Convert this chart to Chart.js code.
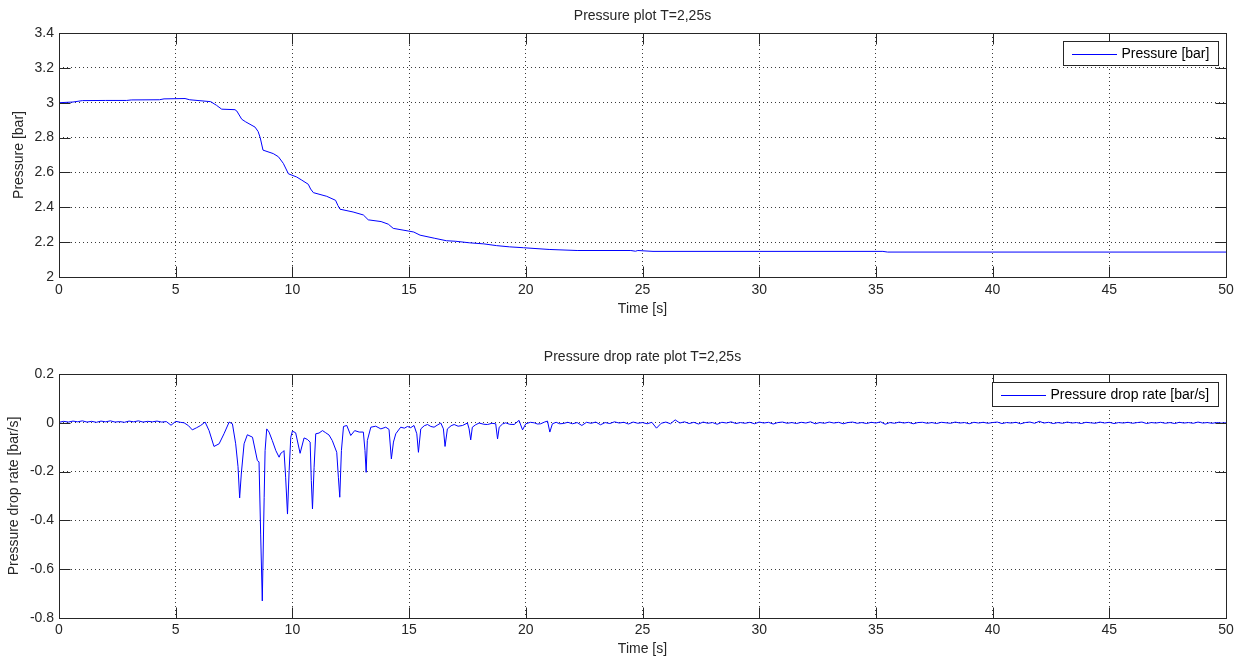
<!DOCTYPE html>
<html>
<head>
<meta charset="utf-8">
<title>Pressure plot</title>
<script src="https://cdn.jsdelivr.net/npm/chart.js@4.4.0/dist/chart.umd.min.js"></script>
<style>
  body { margin: 0; background: #fff; }
  .wrap { position: relative; width: 1241px; height: 660px; }
  canvas { position: absolute; left: 0; }
</style>
</head>
<body>
<div class="wrap">
  <canvas id="press-chart" width="1241" height="330" style="top:0"></canvas>
  <canvas id="rate-chart" width="1241" height="330" style="top:330px"></canvas>
</div>
<script>
// axis ticks
const timeTicks = [0, 5, 10, 15, 20, 25, 30, 35, 40, 45, 50];
const timeLabels = ["0", "5", "10", "15", "20", "25", "30", "35", "40", "45", "50"];
const pressTicks = [2, 2.2, 2.4, 2.6, 2.8, 3, 3.2, 3.4];
const pressLabels = ["2", "2.2", "2.4", "2.6", "2.8", "3", "3.2", "3.4"];
const rateTicks = [-0.8, -0.6, -0.4, -0.2, 0, 0.2];
const rateLabels = ["-0.8", "-0.6", "-0.4", "-0.2", "0", "0.2"];

// pressure [bar]
const pressTime = [0, 0.6, 1.0, 2.0, 2.9, 3.1, 4.3, 4.5, 5.4, 5.6,
  6.0, 6.5, 6.75, 6.97, 7.54, 7.62, 7.83, 8.0, 8.4, 8.53,
  8.62, 8.74, 9.18, 9.4, 9.61, 9.83, 10.18, 10.4, 10.68, 10.78,
  10.9, 11.47, 11.85, 11.95, 12.04, 12.6, 13.04, 13.25, 13.8, 14.11,
  14.32, 14.96, 15.2, 15.47, 16.1, 16.6, 17.0, 17.6, 18.2, 18.75,
  19.3, 19.9, 21.0, 22.2, 24.5, 24.7, 24.8, 25.45, 30, 35.3,
  35.5, 40, 45, 50];
const pressure = [3.0, 3.004, 3.012, 3.013, 3.013, 3.016, 3.017, 3.022, 3.024, 3.017,
  3.012, 3.006, 2.985, 2.963, 2.96, 2.952, 2.905, 2.89, 2.86, 2.835,
  2.80, 2.728, 2.708, 2.69, 2.652, 2.592, 2.574, 2.556, 2.532, 2.505,
  2.484, 2.463, 2.44, 2.41, 2.389, 2.373, 2.356, 2.328, 2.318, 2.303,
  2.279, 2.264, 2.258, 2.24, 2.222, 2.208, 2.205, 2.196, 2.19, 2.18,
  2.173, 2.168, 2.158, 2.152, 2.152, 2.148, 2.152, 2.147, 2.147, 2.147,
  2.143, 2.143, 2.143, 2.143];

// pressure drop rate [bar/s]: quiet start, sampled every 0.2 s from 0
const rateHeadStep = 0.2;
const rateHead = [0.002, 0.006, 0.003, 0.007, 0.004, 0.008, 0.003, 0.006, 0.002, 0.007,
  0.004, 0.008, 0.003, 0.005, 0.002, 0.007, 0.004, 0.008, 0.003, 0.006,
  0.004, 0.007, 0.003, 0.005, -0.01, 0.006, 0.002];

// the active part, read point by point
const rateMidTime = [5.36, 5.55, 5.71, 5.9, 6.07, 6.26, 6.43, 6.64, 6.86, 7.07,
  7.29, 7.43, 7.57, 7.67, 7.74, 7.81, 7.93, 8.07, 8.29, 8.5,
  8.57, 8.64, 8.71, 8.79, 8.83, 8.9, 9.0, 9.14, 9.29, 9.43,
  9.5, 9.57, 9.64, 9.71, 9.79, 9.86, 9.93, 10.0, 10.14, 10.33,
  10.5, 10.64, 10.76, 10.81, 10.86, 10.93, 11.0, 11.14, 11.29, 11.43,
  11.57, 11.71, 11.9, 11.97, 12.03, 12.1, 12.19, 12.33, 12.5, 12.67,
  12.86, 13.04, 13.11, 13.16, 13.21, 13.36, 13.57, 13.79, 14.0, 14.14,
  14.24, 14.33, 14.43, 14.64, 14.8, 14.93, 15.07, 15.21, 15.33, 15.4,
  15.5, 15.65, 15.79, 15.93, 16.07, 16.2, 16.36, 16.47, 16.54, 16.64,
  16.8, 16.93, 17.1, 17.29, 17.5, 17.57, 17.64, 17.71, 17.85, 18.0,
  18.2, 18.36, 18.55, 18.71, 18.79, 18.86, 19.0, 19.14, 19.3, 19.5,
  19.71, 19.86, 20.0, 20.2, 20.36, 20.5, 20.64, 20.8, 20.93, 21.03,
  21.14, 21.3, 21.45];
const rateMid = [0.0, -0.012, -0.029, -0.02, -0.011, 0.003, -0.032, -0.097, -0.086, -0.045,
  0.003, -0.004, -0.086, -0.18, -0.308, -0.21, -0.086, -0.049, -0.059, -0.155,
  -0.16, -0.456, -0.73, -0.305, -0.114, -0.025, -0.038, -0.073, -0.114, -0.141,
  -0.125, -0.121, -0.114, -0.223, -0.374, -0.196, -0.059, -0.034, -0.041, -0.125,
  -0.062, -0.068, -0.079, -0.237, -0.353, -0.182, -0.045, -0.042, -0.032, -0.041,
  -0.05, -0.073, -0.121, -0.223, -0.305, -0.114, -0.015, -0.011, -0.052, -0.032,
  -0.038, -0.038, -0.114, -0.203, -0.073, -0.018, -0.014, -0.025, -0.018, -0.027,
  -0.148, -0.079, -0.045, -0.018, -0.022, -0.015, -0.02, -0.011, -0.045, -0.121,
  -0.025, -0.012, -0.007, -0.015, -0.018, -0.01, -0.001, -0.025, -0.097, -0.025,
  -0.012, -0.007, -0.014, -0.011, -0.001, -0.025, -0.07, -0.018, -0.008, -0.001,
  -0.006, -0.007, -0.002, -0.004, -0.066, -0.018, -0.005, 0.0, -0.006, -0.007,
  0.01, -0.029, -0.004, 0.002, 0.0, -0.005, -0.004, 0.003, 0.007, -0.038,
  -0.004, 0.002, -0.004];

// settled tail, sampled every 0.2 s from 21.6 s
const rateTailStart = 21.6;
const rateTailStep = 0.2;
const rateTail = [-0.003, 0.002, -0.004, 0.001, -0.011, 0.002, -0.002, 0.003, -0.008, 0.001,
  -0.003, 0.004, -0.001, 0.002, -0.005, 0.003, -0.002, 0.001, -0.004, 0.002,
  -0.022, -0.002, 0.003, -0.004, 0.012, -0.001, 0.004, -0.003, 0.002, -0.005,
  0.003, -0.002, 0.001, -0.006, 0.002, -0.001, 0.004, -0.003, 0.001, -0.002,
  0.002, -0.004, 0.003, -0.001, 0.002, -0.005, 0.001, 0.003, -0.002, 0.001,
  -0.003, 0.002, -0.001, 0.004, -0.004, 0.001, -0.002, 0.003, -0.001, 0.002,
  -0.004, 0.001, 0.003, -0.002, 0.001, -0.003, 0.002, -0.001, 0.004, -0.006,
  0.001, -0.002, 0.003, -0.001, 0.002, -0.004, 0.001, 0.002, -0.002, 0.001,
  -0.003, 0.002, 0.0, -0.002, 0.003, -0.001, 0.001, -0.004, 0.002, -0.001,
  0.002, -0.002, 0.001, 0.003, -0.003, 0.001, -0.001, 0.002, -0.004, 0.001,
  0.003, -0.002, 0.006, -0.001, 0.002, -0.003, 0.001, -0.002, 0.003, -0.001,
  0.001, -0.003, 0.002, 0.0, -0.002, 0.003, -0.001, 0.002, -0.003, 0.001,
  -0.001, 0.002, -0.002, 0.001, 0.003, -0.003, 0.001, -0.001, 0.002, -0.002,
  0.001, -0.003, 0.002, -0.001, 0.001, -0.002, 0.003, -0.001, 0.001, -0.002,
  0.001, -0.001, 0.0];

const FONT = "'Liberation Sans', Arial, Helvetica, sans-serif";
const TEXT = "#262626";
const LINE = "#0000ff";

Chart.defaults.font.family = FONT;
Chart.defaults.font.size = 14;
Chart.defaults.color = TEXT;

// MATLAB style box, inward tick marks and boxed legend
const matlabAxes = {
  id: "matlabAxes",
  afterDatasetsDraw(chart) {
    const { ctx, chartArea: a, scales } = chart;
    const L = Math.round(a.left) + 0.5, R = Math.round(a.right) + 0.5;
    const T = Math.round(a.top) + 0.5, B = Math.round(a.bottom) + 0.5;
    ctx.save();
    ctx.setLineDash([]);
    ctx.strokeStyle = TEXT;
    ctx.lineWidth = 1;
    ctx.beginPath();
    scales.x.ticks.forEach((t) => {
      const px = Math.round(scales.x.getPixelForValue(t.value)) + 0.5;
      ctx.moveTo(px, B); ctx.lineTo(px, B - 11);
      ctx.moveTo(px, T); ctx.lineTo(px, T + 11);
    });
    scales.y.ticks.forEach((t) => {
      const py = Math.round(scales.y.getPixelForValue(t.value)) + 0.5;
      ctx.moveTo(L, py); ctx.lineTo(L + 11, py);
      ctx.moveTo(R, py); ctx.lineTo(R - 11, py);
    });
    ctx.stroke();
    ctx.strokeRect(L, T, R - L, B - T);

    // legend box
    const label = chart.data.datasets[0].label;
    ctx.font = "14px " + FONT;
    const tw = ctx.measureText(label).width;
    const w = Math.round(tw + 67), h = 24;
    const x = R - 8 - w, y = T + 8;
    ctx.fillStyle = "#fff";
    ctx.fillRect(x, y, w, h);
    ctx.strokeStyle = TEXT;
    ctx.strokeRect(x, y, w, h);
    ctx.fillStyle = LINE;
    ctx.fillRect(Math.round(x + 8), Math.round(y + h / 2), 45, 1);
    ctx.fillStyle = "#000";
    ctx.textBaseline = "middle";
    ctx.textAlign = "left";
    ctx.fillText(label, x + 58, y + h / 2 + 1);
    ctx.restore();
  },
};

function toPoints(xs, ys) {
  return xs.map((x, i) => ({ x, y: ys[i] }));
}

function stepPoints(start, step, ys) {
  return ys.map((y, i) => ({ x: +(start + i * step).toFixed(2), y }));
}

function makeChart(id, c) {
  return new Chart(document.getElementById(id), {
    type: "line",
    data: {
      datasets: [{
        label: c.label,
        data: c.data,
        borderColor: LINE,
        borderWidth: 1,
        pointRadius: 0,
        tension: 0,
        fill: false,
      }],
    },
    options: {
      responsive: false,
      animation: false,
      layout: { padding: { left: 0, right: 15, top: 0, bottom: 0 } },
      plugins: {
        legend: { display: false },
        tooltip: { enabled: false },
        title: {
          display: true,
          text: c.title,
          fullSize: false,
          color: TEXT,
          font: { size: 14, weight: "normal" },
          padding: c.titlePad,
        },
      },
      scales: {
        x: {
          type: "linear",
          min: 0,
          max: 50,
          afterBuildTicks: (s) => { s.ticks = timeTicks.map((v) => ({ value: v })); },
          afterFit: (s) => { s.height = c.xAxisH; },
          ticks: {
            callback: (v, i) => timeLabels[i],
            padding: c.xTickPad,
            maxRotation: 0,
            autoSkip: false,
            color: TEXT,
          },
          grid: { color: "#3a3a3a", lineWidth: 1, drawTicks: false },
          border: { display: false, dash: [1, 3] },
          title: {
            display: true,
            text: "Time [s]",
            color: TEXT,
            padding: { top: 0, bottom: c.xTitlePad },
          },
        },
        y: {
          type: "linear",
          min: c.yTicks[0],
          max: c.yTicks[c.yTicks.length - 1],
          afterBuildTicks: (s) => { s.ticks = c.yTicks.map((v) => ({ value: v })); },
          afterFit: (s) => { s.width = 59; },
          ticks: {
            callback: (v, i) => c.yLabels[i],
            padding: 5,
            autoSkip: false,
            color: TEXT,
          },
          grid: { color: "#3a3a3a", lineWidth: 1, drawTicks: false },
          border: { display: false, dash: [1, 3] },
          title: {
            display: true,
            text: c.yTitle,
            color: TEXT,
            padding: { top: c.yTitlePad, bottom: 0 },
          },
        },
      },
    },
    plugins: [matlabAxes],
  });
}

makeChart("press-chart", {
  label: "Pressure [bar]",
  title: "Pressure plot T=2,25s",
  data: toPoints(pressTime, pressure),
  yTicks: pressTicks,
  yLabels: pressLabels,
  yTitle: "Pressure [bar]",
  titlePad: { top: 7.6, bottom: 8.6 },
  xAxisH: 53,
  xTickPad: 4.6,
  xTitlePad: 12.6,
  yTitlePad: 10.4,
});

makeChart("rate-chart", {
  label: "Pressure drop rate [bar/s]",
  title: "Pressure drop rate plot T=2,25s",
  data: stepPoints(0, rateHeadStep, rateHead)
    .concat(toPoints(rateMidTime, rateMid))
    .concat(stepPoints(rateTailStart, rateTailStep, rateTail)),
  yTicks: rateTicks,
  yLabels: rateLabels,
  yTitle: "Pressure drop rate [bar/s]",
  titlePad: { top: 18.6, bottom: 8.6 },
  xAxisH: 42,
  xTickPad: 3.6,
  xTitlePad: 2.6,
  yTitlePad: 5.8,
});
</script>
</body>
</html>
